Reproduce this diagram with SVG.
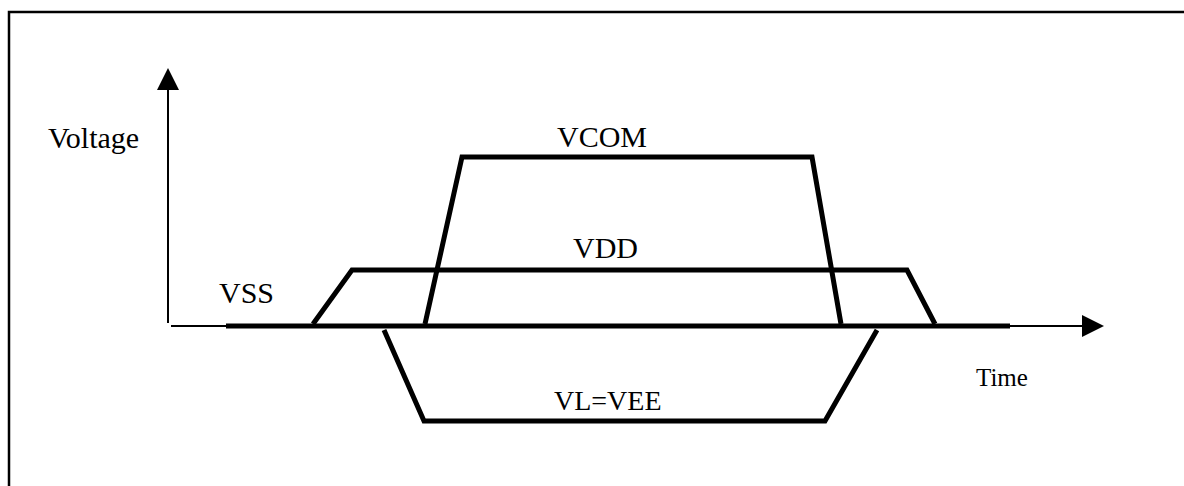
<svg xmlns="http://www.w3.org/2000/svg" width="1184" height="486" viewBox="0 0 1184 486">
<style>
.t{font-family:"Liberation Serif","Times New Roman",serif;font-size:30px;fill:#000}
.thin{stroke:#000;stroke-width:2;fill:none}
.thick{stroke:#000;stroke-width:5;fill:none;stroke-linejoin:miter}
</style>
<rect width="1184" height="486" fill="#fff"/>
<g id="frame"><path d="M9,486 V12 H1184" stroke="#000" stroke-width="2.5" fill="none"/></g>
<g id="axes">
<line class="thin" x1="168" y1="323" x2="168" y2="88"/>
<polygon points="168,68 157,90 179,90" fill="#000"/>
<line class="thin" x1="171" y1="326" x2="1085" y2="326"/>
<polygon points="1104,326 1082,315 1082,337" fill="#000"/>
</g>
<g id="connectors">
<line class="thick" x1="226" y1="326" x2="1010" y2="326"/>
<polyline id="vdd" class="thick" points="313,324 352,270 907,270 935,324"/>
<polyline id="vcom" class="thick" points="425,324 462,157 812,157 841,324"/>
<polyline id="vee" class="thick" points="384,330 424,421 825,421 877,330"/>
</g>
<g id="labels">
<text class="t" x="48" y="148">Voltage</text>
<text class="t" x="557" y="147">VCOM</text>
<text class="t" x="573" y="258">VDD</text>
<text class="t" x="219" y="303">VSS</text>
<text class="t" x="554" y="410" style="font-size:28px">VL=VEE</text>
<text class="t" x="976" y="386" style="font-size:25px">Time</text>
</g>
</svg>
